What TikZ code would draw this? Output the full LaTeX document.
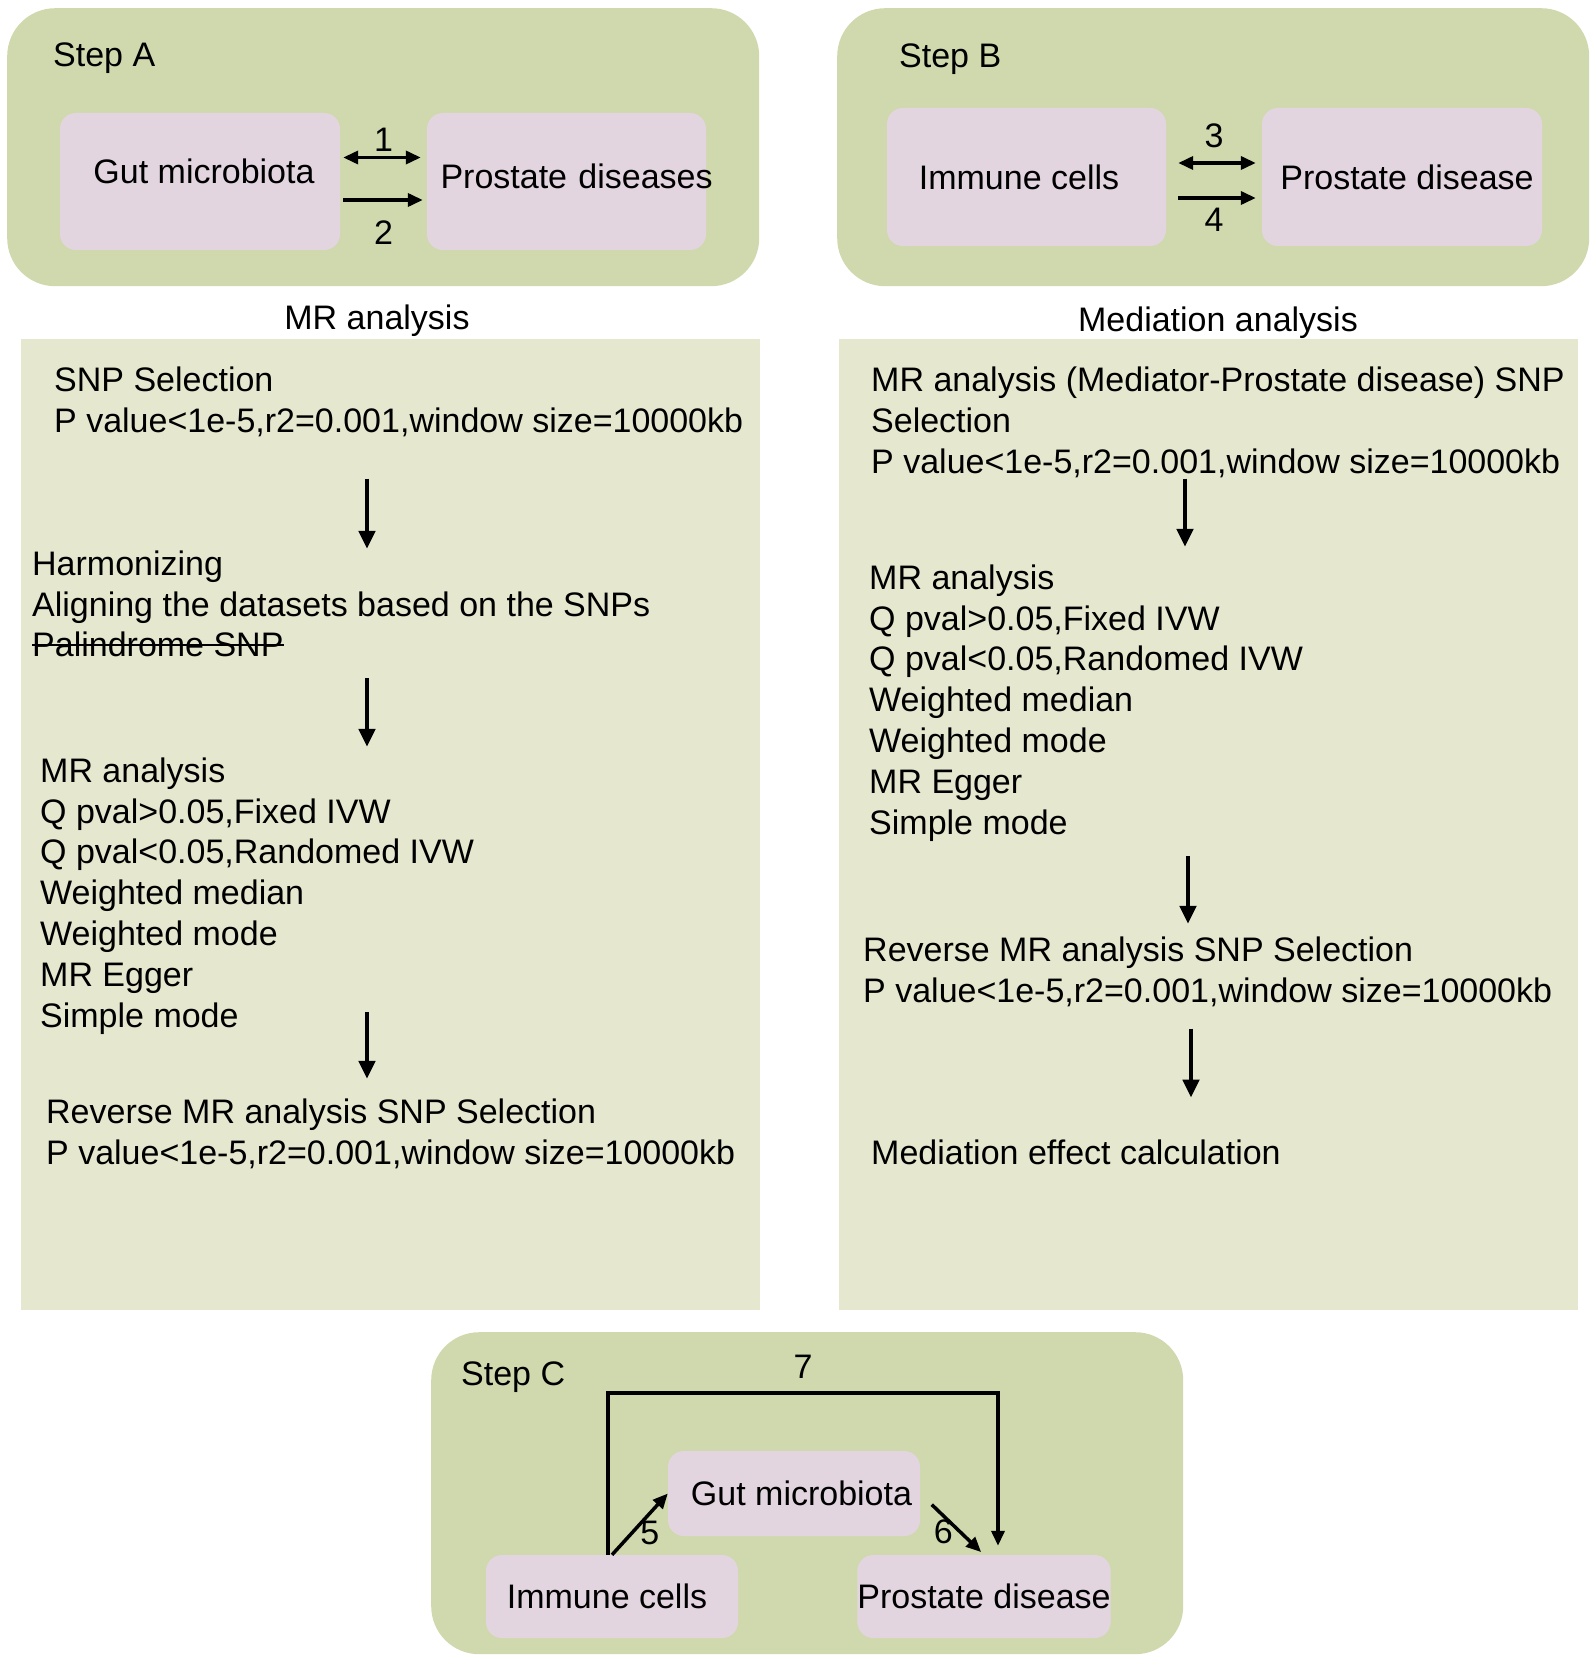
\documentclass[tikz,border=0pt]{standalone}
\usepackage{fontspec}
\setmainfont{Liberation Sans}
\usetikzlibrary{arrows.meta}
\usetikzlibrary{positioning}

\definecolor{stepgreen}{RGB}{207,217,173}
\definecolor{boxpink}{RGB}{226,213,224}
\definecolor{panelbeige}{RGB}{229,231,206}

\begin{document}
\begin{tikzpicture}
  [x=1pt, y=-1pt,
   every node/.style={font=\fontsize{34}{40.8}\selectfont, inner sep=0pt},
   steppanel/.style={fill=stepgreen, rounded corners=48pt, anchor=north west},
   bodypanel/.style={fill=panelbeige, anchor=north west},
   pinkbox/.style={fill=boxpink, rounded corners=16pt},
   txt/.style={anchor=base west, align=left},
   flow/.style={-{Triangle[length=18pt, width=16pt]}, line width=4.5pt},
   link/.style={-{Triangle[length=15pt, width=13pt]}, line width=3.5pt},
   dlink/.style={{Triangle[length=15pt, width=13pt]}-{Triangle[length=15pt, width=13pt]}, line width=3.5pt}]

  \useasboundingbox (0,0) rectangle (1595,1661);

  % step panels
  \node (panelA) [steppanel, minimum width=752pt, minimum height=278pt] at (7,8) {};
  \node (panelB) [steppanel, minimum width=752pt, minimum height=278pt] at (837,8) {};
  \node (panelC) [steppanel, minimum width=752pt, minimum height=322pt] at (431,1332) {};
  \node (bodyA) [bodypanel, minimum width=739pt, minimum height=971pt] at (21,339) {};
  \node (bodyB) [bodypanel, minimum width=739pt, minimum height=971pt] at (839,339) {};

  \node (stepA) [txt] at (53,67) {Step A};
  \node (stepB) [txt] at (899,68) {Step B};
  \node (stepC) [txt] at (461,1385) {Step C};

  % step A
  \node (gutA) [pinkbox, minimum width=280pt, minimum height=137pt, text height=24pt, text depth=20pt] at (200,181.5) {\hspace*{8pt}Gut microbiota};
  \node (prosA) [pinkbox, minimum height=137pt, text width=279pt, align=left, text height=24pt, text depth=9pt] at (566.5,181.5) {\hspace*{13.5pt}\mbox{Prostate diseases}};
  \draw[dlink, shorten <=3pt, shorten >=6pt] ([yshift=24pt]gutA.east) -- node[above=4pt] {1} ([yshift=24pt]prosA.west);
  \draw[link, shorten <=3pt, shorten >=4pt] ([yshift=-18.5pt]gutA.east) -- node[below=19pt] {2} ([yshift=-18.5pt]prosA.west);

  % step B
  \node (immB) [pinkbox, minimum width=279pt, minimum height=138pt] at (1026.5,177) {Immune cells\hspace*{15pt}};
  \node (prosB) [pinkbox, minimum width=280pt, minimum height=138pt] at (1402,177) {\hspace*{10pt}Prostate disease};
  \draw[dlink, shorten <=12pt, shorten >=6pt] ([yshift=14pt]immB.east) -- node[above=13pt] {3} ([yshift=14pt]prosB.west);
  \draw[link, shorten <=12pt, shorten >=6pt] ([yshift=-21pt]immB.east) -- node[below=8pt] {4} ([yshift=-21pt]prosB.west);

  \node (headA) [anchor=base] at (377,329) {MR analysis};
  \node (headB) [anchor=base] at (1218,331) {Mediation analysis};

  % MR analysis
  \node (snpA) [txt] at (54,432) {SNP Selection\\P value<1e-5,r2=0.001,window size=10000kb};
  \node (harmA) [txt] at (32,616) {Harmonizing\\Aligning the datasets based on the SNPs};
  \node (palA) [txt] at (32,656) {Palindrome SNP};
  \draw[line width=2pt] ([yshift=11pt]palA.base west) -- ([yshift=11pt]palA.base east);
  \node (mrA) [txt] at (40,1027) {MR analysis\\Q pval>0.05,Fixed IVW\\Q pval<0.05,Randomed IVW\\Weighted median\\Weighted mode\\MR Egger\\Simple mode};
  \node (revA) [txt] at (46,1164) {Reverse MR analysis SNP Selection\\P value<1e-5,r2=0.001,window size=10000kb};

  \coordinate (colA) at (367,0);
  \draw[flow, shorten <=42pt, shorten >=1.5pt] (snpA.south -| colA) -- (harmA.north -| colA);
  \draw[flow, shorten <=21.5pt, shorten >=10.5pt] (palA.south -| colA) -- (mrA.north -| colA);
  \draw[flow, shorten <=-22pt, shorten >=19.5pt] (mrA.south -| colA) -- (revA.north -| colA);

  % mediation analysis
  \node (selB) [txt] at (871,473) {MR analysis (Mediator-Prostate disease) SNP\\Selection\\P value<1e-5,r2=0.001,window size=10000kb};
  \node (mrB) [txt] at (869,834) {MR analysis\\Q pval>0.05,Fixed IVW\\Q pval<0.05,Randomed IVW\\Weighted median\\Weighted mode\\MR Egger\\Simple mode};
  \node (revB) [txt] at (863,1002) {Reverse MR analysis SNP Selection\\P value<1e-5,r2=0.001,window size=10000kb};
  \node (effB) [txt] at (871,1164) {Mediation effect calculation};

  \draw[flow, shorten <=1pt, shorten >=17.5pt] (selB.south -| 1185,0) -- (mrB.north -| 1185,0);
  \draw[flow, shorten <=15pt, shorten >=12.5pt] (mrB.south -| 1188,0) -- (revB.north -| 1188,0);
  \draw[flow, shorten <=22pt, shorten >=41.5pt] (revB.south -| 1191,0) -- (effB.north -| 1191,0);

  % step C
  \node (gutC) [pinkbox, minimum width=252pt, minimum height=85pt] at (794,1493.5) {\hspace*{15pt}Gut microbiota};
  \node (immC) [pinkbox, minimum width=252pt, minimum height=83pt] at (612,1596.5) {Immune cells\hspace*{10pt}};
  \node (prosC) [pinkbox, minimum width=252pt, minimum height=83pt] at (984,1596.5) {Prostate disease};

  \coordinate (top7) at (608,1393);
  \draw[link, shorten >=9pt] ([xshift=-4pt]immC.north) |- node[pos=0.75, above=13pt] {7} ([xshift=14pt]prosC.north |- top7) -- ([xshift=14pt]prosC.north);
  \draw[link] (immC.north) -- node[pos=0.35, right=7pt] {5} (gutC.west);
  \draw[link, shorten <=16pt, shorten >=4pt] (gutC.east) -- node[pos=0.63, left=6pt] {6} (prosC.north);
\end{tikzpicture}
\end{document}
